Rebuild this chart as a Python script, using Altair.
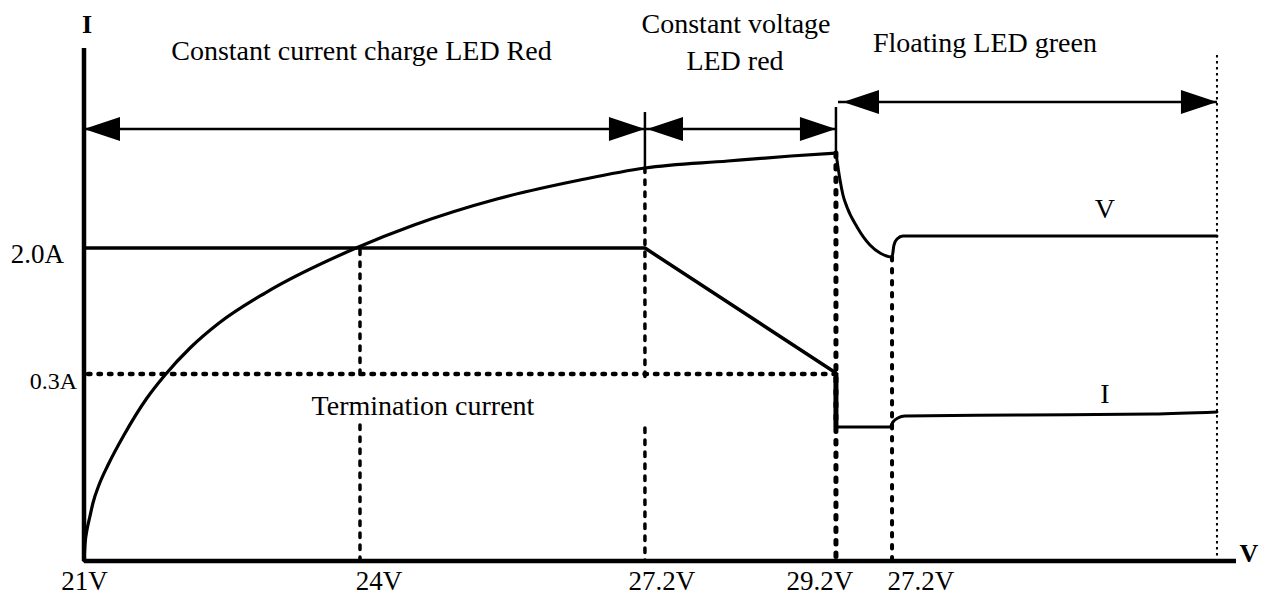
import altair as alt
import pandas as pd

# Schematic coordinates:
# x: position along the V axis (0 = "21V" origin, 100 = end of floating stage)
# y: level on the I axis (0 = baseline, 100 = top of the I axis)

# Battery voltage curve (rising, constant current / constant voltage stages)
V_RISE_X = [0, 0.088, 0.26, 0.53, 0.79, 1.32, 2.12, 3.53, 5.56, 7.15, 9.36, 11.92,
            15.98, 24.01, 29.13, 36.45, 43.78, 49.51, 56.84, 62.40, 66.37]
V_RISE_Y = [0, 3.31, 6.04, 8.77, 11.31, 14.81, 18.71, 24.56, 31.77, 36.26, 41.52, 46.39,
            52.24, 61.01, 65.50, 70.57, 74.27, 76.61, 77.97, 78.95, 79.53]
# Voltage drop into floating stage
V_FLOAT_X = [66.37, 66.55, 66.73, 66.99, 67.34, 68.23, 69.37, 70.26, 71.32, 71.49,
             71.76, 72.29, 100]
V_FLOAT_Y = [79.53, 76.80, 74.27, 71.35, 69.01, 65.11, 61.60, 60.04, 59.26, 61.60,
             62.77, 63.35, 63.35]
# Charging current
I_CC_X = [0, 49.51, 66.37]
I_CC_Y = [61.01, 61.01, 36.65]
I_DROP = [66.37, 36.65, 26.12]  # x, from, to
I_FLOAT_X = [66.37, 71.14, 71.40, 71.84, 72.46, 83.05, 94.35, 100]
I_FLOAT_Y = [26.12, 26.12, 27.10, 27.88, 28.27, 28.46, 28.65, 29.04]

# Stage boundaries and reference levels
LEVEL_03A = 36.45
X_24V, X_272V, X_292V, X_272V_B, X_END = 24.36, 49.51, 66.37, 71.32, 100
AXIS_X_END = 101.68

# Stage arrows
ARROW_CC_Y = 84.21
ARROW_FL_Y = 89.47
LEFT_TIPS_X = [0, 49.69, 66.99]
LEFT_TIPS_Y = [84.21, 84.21, 89.47]
RIGHT_TIPS_X = [49.51, 66.37, 100]
RIGHT_TIPS_Y = [84.21, 84.21, 89.47]

# Texts
TICK_LABELS = ["21V", "24V", "27.2V", "29.2V", "27.2V"]
TICK_X = [0.04, 26.04, 51.01, 64.96, 73.87]
TICK_Y = -5.65
A_LABELS = ["2.0A", "0.3A"]
A_X = [-1.77, -0.62]
A_Y = [58.09, 33.53]
A_FS = [27, 24]
STAGE_TEXT = ["Constant current charge LED Red", "Constant voltage", "LED red",
              "Floating LED green", "V", "I", "Termination current"]
STAGE_X = [24.49, 57.55, 57.46, 79.52, 90.11, 90.11, 29.92]
STAGE_Y = [97.66, 102.92, 95.71, 99.22, 66.86, 30.80, 28.46]
AXIS_TEXT = ["I", "V"]
AXIS_TEXT_X = [0.26, 102.82]
AXIS_TEXT_Y = [102.92, -0.19]

FONT = "Liberation Serif"
XS = alt.Scale(domain=[-6.708, 103.71], nice=False, zero=False)
YS = alt.Scale(domain=[-6.82, 107.80], nice=False, zero=False)


def X(f="x"):
    return alt.X(f"{f}:Q", scale=XS, axis=None)


def Y(f="y"):
    return alt.Y(f"{f}:Q", scale=YS, axis=None)


def line(xs, ys, width, interp="linear"):
    df = pd.DataFrame({"x": xs, "y": ys, "o": range(len(xs))})
    return alt.Chart(df).mark_line(color="black", strokeWidth=width, interpolate=interp,
                                   strokeCap="round", strokeJoin="round").encode(
        x=X(), y=Y(), order="o:Q")


def rules(rows, **style):
    df = pd.DataFrame(rows, columns=["x", "x2", "y", "y2"])
    return alt.Chart(df).mark_rule(color="black", **style).encode(
        x=X(), x2="x2:Q", y=Y(), y2="y2:Q")


layers = []

# axes
layers.append(rules([[0, 0, 0, 100], [0, AXIS_X_END, 0, 0]], strokeWidth=4.5, strokeCap="butt"))

# dotted guide lines
layers.append(rules([[0.35, 66.28, LEVEL_03A, LEVEL_03A]],
                    strokeWidth=4.5, strokeDash=[2.5, 8], strokeCap="round"))
layers.append(rules([[X_24V, X_24V, 60.62, 35.28], [X_24V, X_24V, 26.51, 0],
                     [X_272V, X_272V, 76.61, 35.28], [X_272V, X_272V, 25.93, 0]],
                    strokeWidth=3.5, strokeDash=[4.5, 7.5], strokeCap="round"))
layers.append(rules([[X_292V, X_292V, 79.53, 0]],
                    strokeWidth=5, strokeDash=[3.5, 9], strokeCap="round"))
layers.append(rules([[X_272V_B, X_272V_B, 59.26, 0]],
                    strokeWidth=4, strokeDash=[3.5, 8.5], strokeCap="round"))
layers.append(rules([[X_END, X_END, 98.64, 0]],
                    strokeWidth=2, strokeDash=[2.5, 3.5], strokeCap="butt"))

# stage separators and arrow shafts
layers.append(rules([[X_272V, X_272V, 87.52, 76.61], [X_292V, X_292V, 88.50, 79.53]],
                    strokeWidth=2.5))
layers.append(rules([[0, X_292V, ARROW_CC_Y, ARROW_CC_Y], [66.55, X_END, ARROW_FL_Y, ARROW_FL_Y]],
                    strokeWidth=2.5))

# arrow heads
left_df = pd.DataFrame({"x": LEFT_TIPS_X, "y": LEFT_TIPS_Y})
right_df = pd.DataFrame({"x": RIGHT_TIPS_X, "y": RIGHT_TIPS_Y})
layers.append(alt.Chart(left_df).mark_point(
    shape="M0,0L1,-0.333L1,0.333Z", size=5184, filled=True, color="black",
    opacity=1, strokeWidth=0).encode(x=X(), y=Y()))
layers.append(alt.Chart(right_df).mark_point(
    shape="M0,0L-1,-0.333L-1,0.333Z", size=5184, filled=True, color="black",
    opacity=1, strokeWidth=0).encode(x=X(), y=Y()))

# curves
layers.append(line(V_RISE_X, V_RISE_Y, 3.2, "monotone"))
layers.append(line(V_FLOAT_X, V_FLOAT_Y, 3, "monotone"))
layers.append(line(I_CC_X, I_CC_Y, 3.5))
layers.append(rules([[I_DROP[0], I_DROP[0], I_DROP[1], I_DROP[2]]], strokeWidth=5))
layers.append(line(I_FLOAT_X, I_FLOAT_Y, 3, "monotone"))

# texts
tick_df = pd.DataFrame({"x": TICK_X, "y": [TICK_Y] * len(TICK_X), "t": TICK_LABELS})
layers.append(alt.Chart(tick_df).mark_text(font=FONT, fontSize=27, align="center",
                                           baseline="alphabetic", color="black").encode(
    x=X(), y=Y(), text="t:N"))
a_df = pd.DataFrame({"x": A_X, "y": A_Y, "t": A_LABELS, "fs": A_FS})
layers.append(alt.Chart(a_df).mark_text(font=FONT, align="right",
                                        baseline="alphabetic", color="black").encode(
    x=X(), y=Y(), text="t:N", size=alt.Size("fs:Q", scale=None, legend=None)))
s_df = pd.DataFrame({"x": STAGE_X, "y": STAGE_Y, "t": STAGE_TEXT})
layers.append(alt.Chart(s_df).mark_text(font=FONT, fontSize=28, align="center",
                                        baseline="alphabetic", color="black").encode(
    x=X(), y=Y(), text="t:N"))
ax_df = pd.DataFrame({"x": AXIS_TEXT_X, "y": AXIS_TEXT_Y, "t": AXIS_TEXT})
layers.append(alt.Chart(ax_df).mark_text(font=FONT, fontSize=26, fontWeight="bold",
                                         align="center", baseline="alphabetic",
                                         color="black").encode(
    x=X(), y=Y(), text="t:N"))

chart = alt.layer(*layers).properties(
    width=1251, height=588,
    autosize=alt.AutoSizeParams(type="none"),
    padding=0,
    background="white",
).configure_view(stroke=None)

chart.save("out.html", embed_options={"renderer": "svg", "actions": False})
